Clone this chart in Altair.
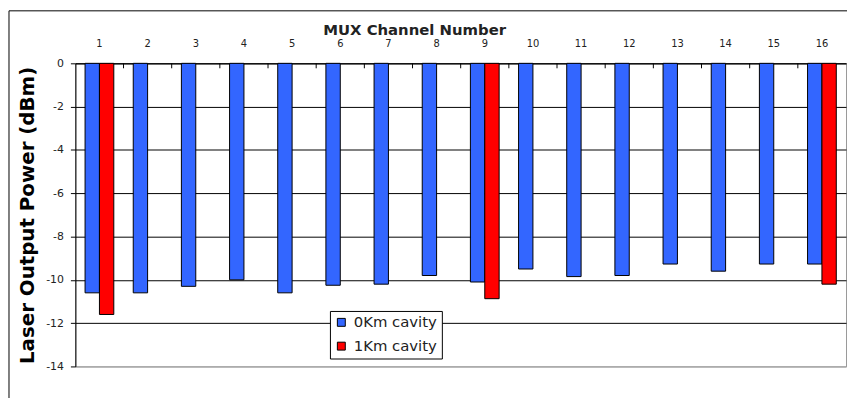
import altair as alt
import pandas as pd

# ---- data ----
channels = list(range(1, 17))
power_0km = [-10.6, -10.6, -10.3, -10.0, -10.6, -10.25, -10.2, -9.8,
             -10.1, -9.5, -9.85, -9.8, -9.27, -9.6, -9.27, -9.27]
channels_1km = [1, 9, 16]
power_1km = [-11.6, -10.87, -10.2]
series_names = ["0Km cavity", "1Km cavity"]
series_colors = ["#3366FF", "#FF0000"]
y_ticks = list(range(-14, 1, 2))

rows = [{"channel": c, "power": p, "series": series_names[0]} for c, p in zip(channels, power_0km)]
rows += [{"channel": c, "power": p, "series": series_names[1]} for c, p in zip(channels_1km, power_1km)]
df = pd.DataFrame(rows)
df_ticks = pd.DataFrame({"channel": channels[1:]})

FONT = "DejaVu Sans"

x_enc = alt.X(
    "channel:O",
    scale=alt.Scale(paddingInner=0, paddingOuter=0),
    axis=alt.Axis(
        orient="top", title="MUX Channel Number", labelAngle=0,
        ticks=False, tickSize=0, domain=True, domainColor="#000", grid=False,
        labelFont=FONT, labelFontSize=10, labelColor="#222", labelPadding=15,
        titleFont=FONT, titleFontSize=15, titleFontWeight="bold", titleColor="#222",
        titleX=342, titleY=-29, titleBaseline="alphabetic",
    ),
)

y_enc = alt.Y(
    "power:Q",
    scale=alt.Scale(domain=[-14, 0], nice=False, zero=False),
    axis=alt.Axis(
        values=y_ticks, title="Laser Output Power (dBm)",
        titleFont=FONT, titleFontSize=20, titleFontWeight="bold", titleColor="#000",
        titlePadding=8,
        labelExpr="'' + datum.value", labelFont=FONT, labelFontSize=11,
        labelColor="#222", labelPadding=7,
        tickSize=5, tickColor="#000", domainColor="#000",
        grid=True, gridOpacity=1,
        gridColor={"condition": {"test": "datum.value == -14", "value": "#999"}, "value": "#000"},
    ),
)

bars = alt.Chart(df).mark_bar(stroke="#000", strokeWidth=1).encode(
    x=x_enc,
    xOffset=alt.XOffset("series:N", scale=alt.Scale(domain=series_names, paddingInner=0, paddingOuter=0.676)),
    y=y_enc,
    y2=alt.datum(0),
    color=alt.Color(
        "series:N",
        scale=alt.Scale(domain=series_names, range=series_colors),
        legend=alt.Legend(
            title=None, orient="none", legendX=257, legendY=250,
            labelFont=FONT, labelFontSize=15, labelColor="#222",
            symbolType="square", symbolSize=64,
            symbolStrokeColor="#000", symbolStrokeWidth=1,
            strokeColor="#000", fillColor="#fff", padding=4, rowPadding=8,
            labelOffset=5,
        ),
    ),
)

inner_ticks = alt.Chart(df_ticks).mark_rule(color="#000", strokeWidth=1).encode(
    x=alt.X("channel:O", bandPosition=0),
    y=alt.value(0),
    y2=alt.value(5),
)

frame = alt.Chart(pd.DataFrame({"k": [0]})).mark_rect(
    fill=None, stroke="#000", strokeWidth=1
).encode(
    x=alt.value(-67), x2=alt.value(820), y=alt.value(-53), y2=alt.value(420)
)

chart = alt.layer(bars, inner_ticks, frame).properties(
    width=778, height=306,
    autosize=alt.AutoSizeParams(type="none"),
    padding={"left": 68, "top": 54, "right": 1, "bottom": 30},
    background="#ffffff",
).configure_view(stroke="#999", strokeWidth=1)

chart.save("out.html", embed_options={"renderer": "svg", "actions": False})
